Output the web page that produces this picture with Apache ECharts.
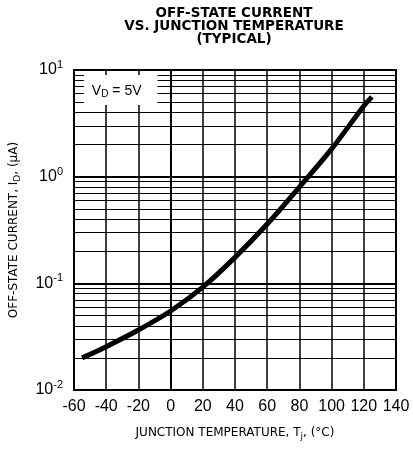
<!DOCTYPE html>
<html>
<head>
<meta charset="utf-8">
<script src="https://cdn.jsdelivr.net/npm/echarts@6/dist/echarts.min.js"></script>
<style>
html,body{margin:0;padding:0;background:#fff;}
#chart{width:413px;height:450px;}
</style>
</head>
<body>
<div id="chart"></div>
<script>
// Data
var temperatures = [-55, -40, -20, 0, 20, 40, 60, 80, 100, 120, 125];
var offStateCurrent = [0.020, 0.0255, 0.0365, 0.055, 0.092, 0.175, 0.36, 0.80, 1.82, 4.6, 5.6];
var xTickValues = [-60, -40, -20, 0, 20, 40, 60, 80, 100, 120, 140];
var yDecades = [0.01, 0.1, 1, 10];
var minorGridValues = [0.02, 0.03, 0.04, 0.05, 0.06, 0.07, 0.08, 0.09,
                       0.2, 0.3, 0.4, 0.5, 0.6, 0.7, 0.8, 0.9,
                       2, 3, 4, 5, 6, 7, 8, 9];
var annotationText = 'V_D = 5V';
var annotationPos = [-31, 6.5];

var chart = echarts.init(document.getElementById('chart'), null, {renderer: 'canvas'});

var curveData = temperatures.map(function (t, i) { return [t, offStateCurrent[i]]; });

var option = {
  animation: false,
  backgroundColor: '#fff',
  title: {
    text: 'OFF-STATE CURRENT\nVS. JUNCTION TEMPERATURE\n(TYPICAL)',
    left: 234,
    top: 7,
    padding: 0,
    textAlign: 'center',
    textStyle: {
      fontFamily: 'DejaVu Sans',
      fontWeight: 'bold',
      fontSize: 13.5,
      lineHeight: 13,
      color: '#000'
    }
  },
  grid: {
    left: 72, right: 17, top: 70, bottom: 60,
    show: true, borderColor: '#000', borderWidth: 2, backgroundColor: 'transparent'
  },
  xAxis: {
    type: 'value',
    min: xTickValues[0], max: xTickValues[xTickValues.length - 1], interval: 20,
    axisLine: {show: true, lineStyle: {color: '#000', width: 2}},
    axisTick: {show: false},
    splitLine: {show: true, lineStyle: {color: '#000', width: 1.5}},
    axisLabel: {
      margin: 9,
      color: '#000',
      fontFamily: 'Liberation Sans',
      fontSize: 16,
      formatter: function (v) { return String(v); },
      showMinLabel: true, showMaxLabel: true
    },
    name: '{a|JUNCTION TEMPERATURE, T}{s|j}{a|, (°C)}',
    nameLocation: 'middle',
    nameGap: 35,
    nameTextStyle: {
      rich: {
        a: {fontFamily: 'DejaVu Sans', fontSize: 12, color: '#000'},
        s: {fontFamily: 'DejaVu Sans', fontSize: 9, color: '#000', padding: [7, 0, 0, 0]}
      }
    }
  },
  yAxis: {
    type: 'log',
    logBase: 10,
    min: yDecades[0], max: yDecades[yDecades.length - 1],
    axisLine: {show: true, lineStyle: {color: '#000', width: 2}},
    axisTick: {show: false},
    splitLine: {show: true, lineStyle: {color: '#000', width: 2}},
    axisLabel: {
      margin: 11,
      color: '#000',
      formatter: function (v) {
        var e = Math.round(Math.log(v) / Math.LN10);
        return '{b|10}{e|' + e + '}';
      },
      rich: {
        b: {fontFamily: 'Liberation Sans', fontSize: 16, color: '#000'},
        e: {fontFamily: 'Liberation Sans', fontSize: 11, color: '#000', padding: [0, 0, 10, 0]}
      }
    },
    name: '{a|OFF-STATE CURRENT, I}{s|D}{a|, (μA)}',
    nameLocation: 'middle',
    nameRotate: 90,
    nameGap: 52,
    nameTextStyle: {
      rich: {
        a: {fontFamily: 'DejaVu Sans', fontSize: 12, color: '#000'},
        s: {fontFamily: 'DejaVu Sans', fontSize: 9, color: '#000', padding: [7, 0, 0, 0]}
      }
    }
  },
  series: [
    {
      name: 'minorGrid',
      type: 'line',
      z: 1,
      data: [],
      silent: true,
      markLine: {
        silent: true,
        symbol: ['none', 'none'],
        label: {show: false},
        lineStyle: {color: '#000', width: 1, type: 'solid'},
        data: minorGridValues.map(function (v) { return {yAxis: v}; })
      }
    },
    {
      name: 'annotation',
      type: 'line',
      z: 4,
      data: [],
      silent: true,
      markPoint: {
        silent: true,
        symbol: 'rect',
        symbolSize: 0,
        label: {
          show: true,
          position: 'inside',
          formatter: '{v|V}{d|D}{v| = 5V}',
          backgroundColor: '#fff',
          padding: [8, 16, 6, 8],
          rich: {
            v: {fontFamily: 'Liberation Sans', fontSize: 14, color: '#000'},
            d: {fontFamily: 'Liberation Sans', fontSize: 10, color: '#000', padding: [6, 0, 0, 0]}
          }
        },
        data: [{coord: annotationPos, value: annotationText}]
      }
    },
    {
      name: 'Off-state current',
      type: 'line',
      z: 5,
      data: curveData,
      smooth: 0.35,
      symbol: 'none',
      lineStyle: {color: '#000', width: 5, cap: 'butt'}
    }
  ]
};
chart.setOption(option);
</script>
</body>
</html>
